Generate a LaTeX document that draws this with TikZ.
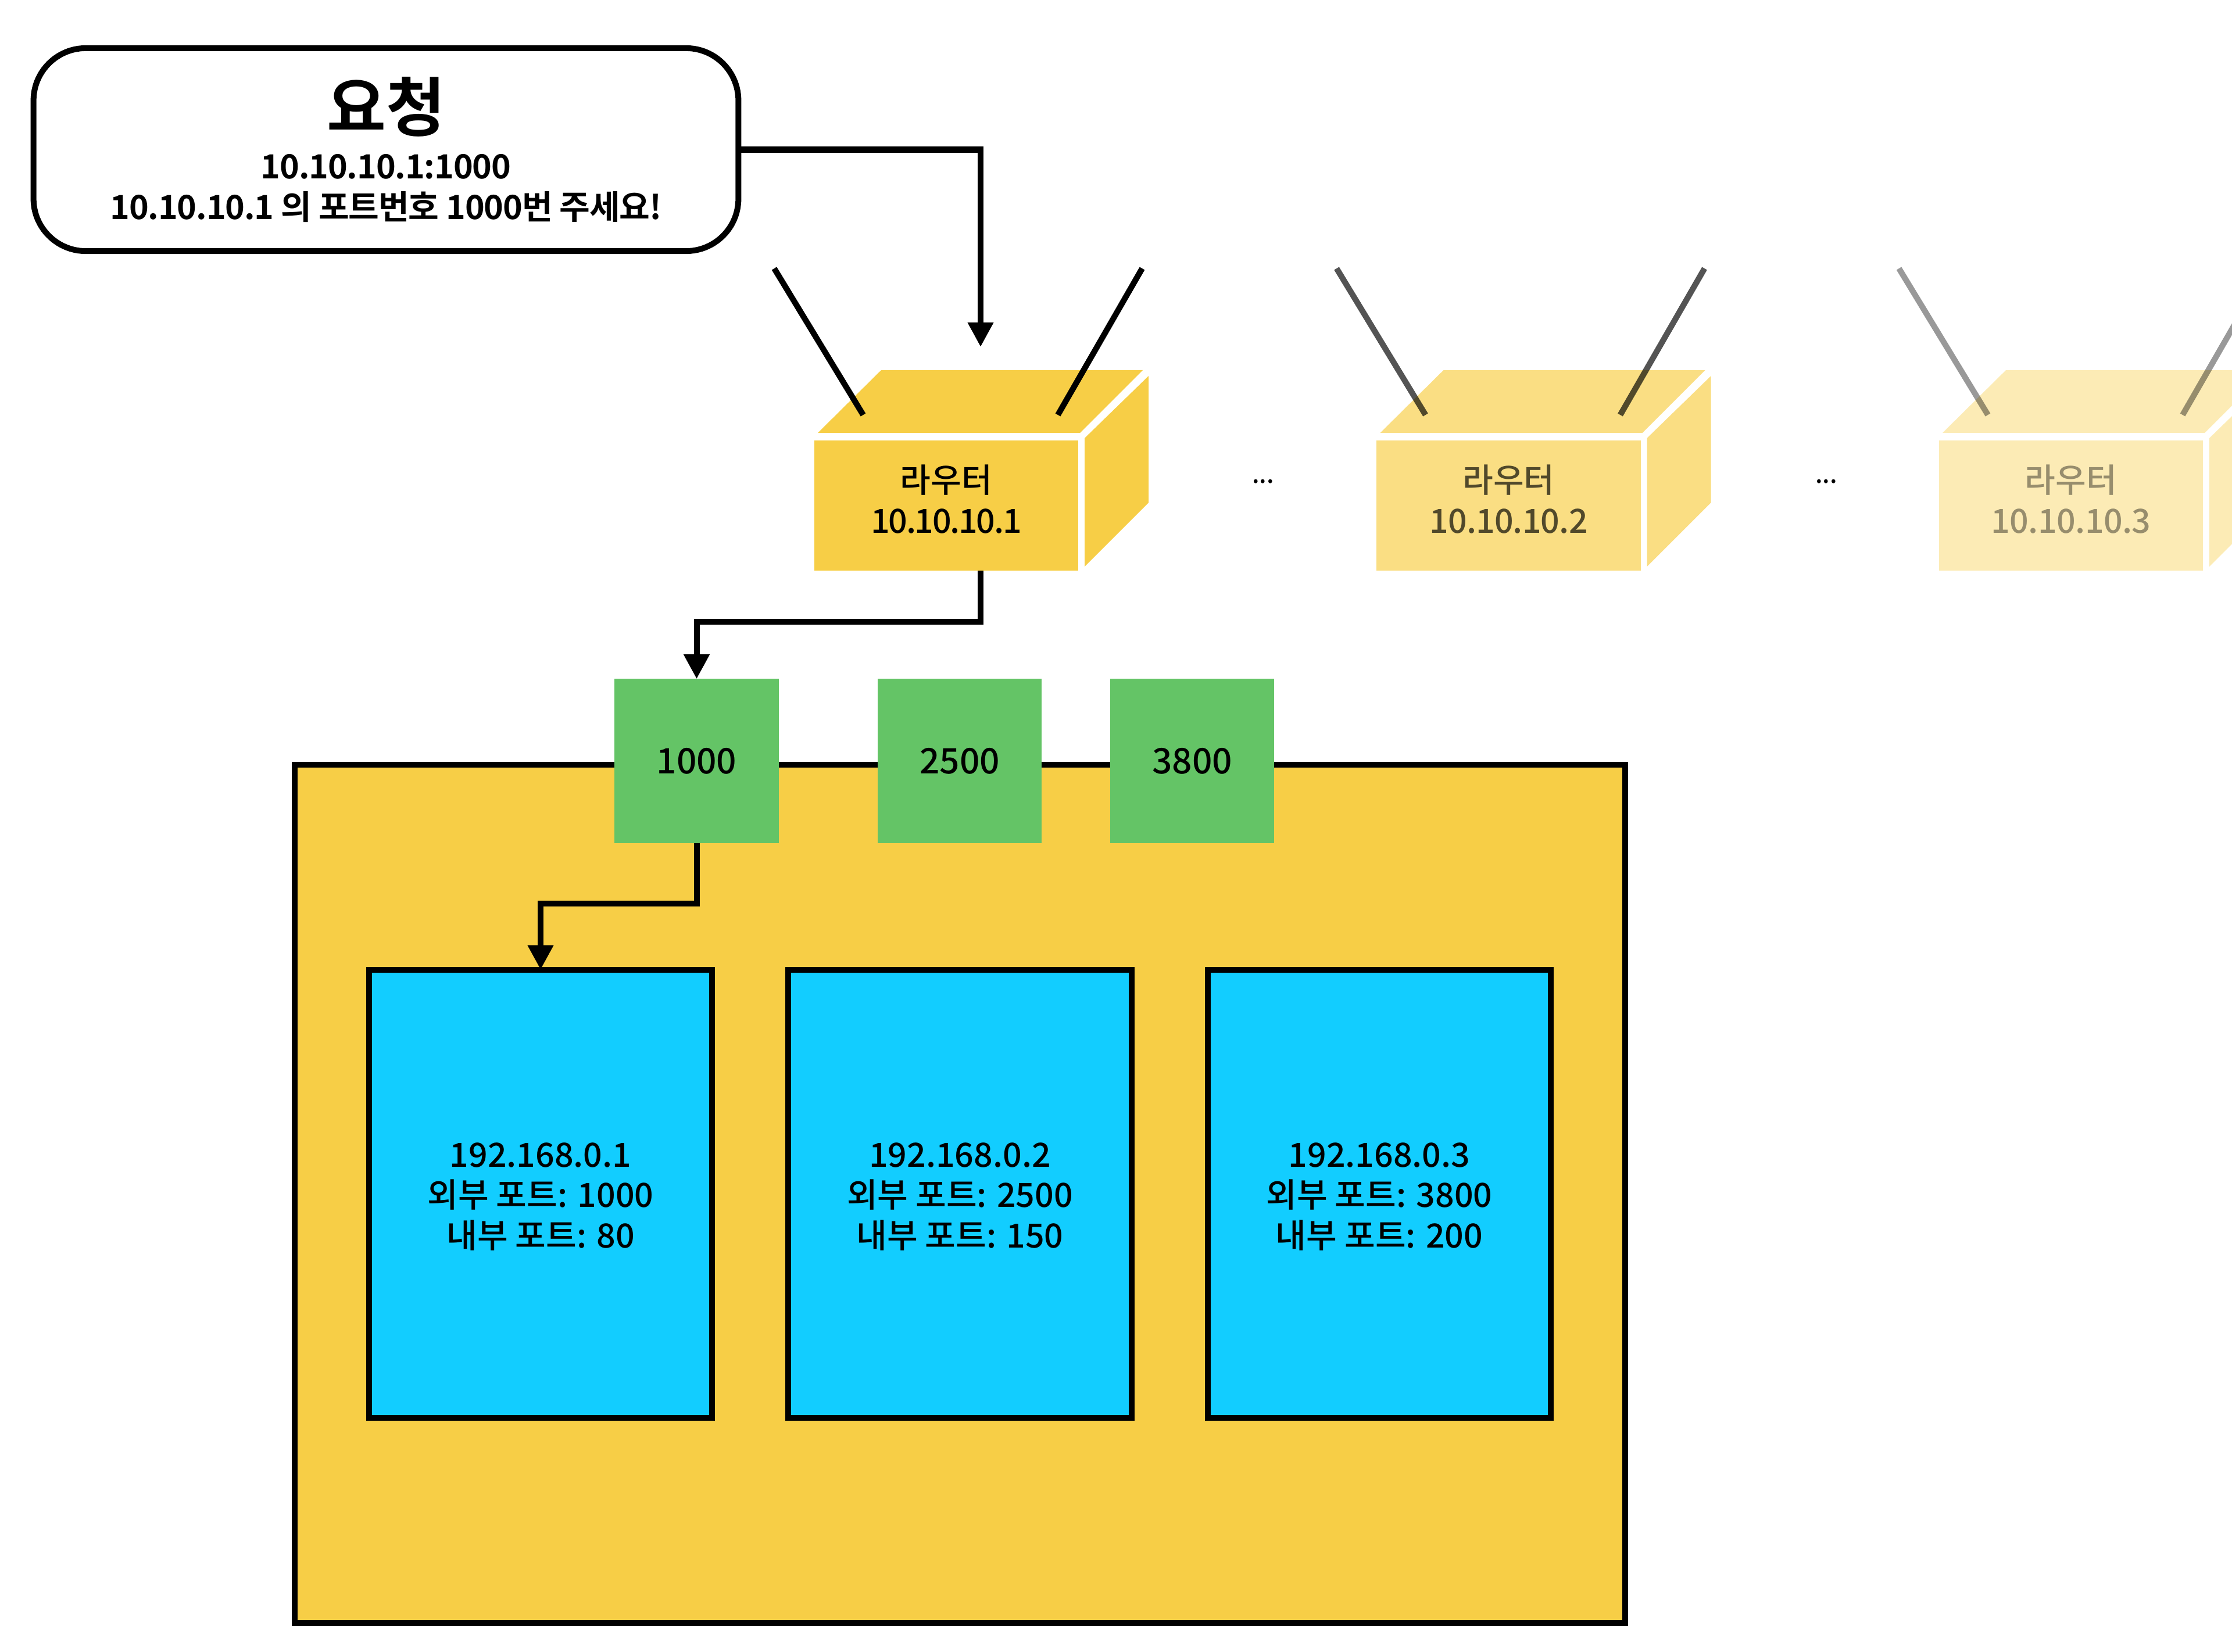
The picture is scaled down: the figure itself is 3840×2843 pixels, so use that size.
\documentclass[tikz,border=0pt]{standalone}
\usepackage{fontspec}
\usepackage{xcolor}
\usetikzlibrary{arrows.meta}
\setmainfont{Noto Sans CJK KR Medium}
\newfontfamily\boldkr{Noto Sans CJK KR Bold}
\newfontfamily\tightkr{Noto Sans CJK KR Bold}[LetterSpace=-2]
\definecolor{boxyellow}{HTML}{F7CE46}
\definecolor{portgreen}{HTML}{64C466}
\definecolor{hostblue}{HTML}{12CDFF}

\begin{document}
\begin{tikzpicture}[x=0.01cm,y=-0.01cm,
    label16/.style={font=\fontsize{16.3}{19.8}\selectfont,align=center,inner sep=0pt,outer sep=0pt},
    wire/.style={line width=2.85pt},
    arrowwire/.style={wire,-{Triangle[length=12pt,width=12pt]}},
    requestbox/.style={label16,draw,wire,rounded corners=0.9cm,fill=white,minimum width=12.12cm,minimum height=3.49cm},
    routerbox/.style={fill=boxyellow,outer sep=0pt,minimum width=4.54cm,minimum height=2.24cm},
    routertext/.style={label16,yshift=3.1pt},
    portbox/.style={label16,font=\fontsize{17.2}{20}\selectfont,fill=portgreen,minimum width=2.82cm,minimum height=2.82cm},
    hostbox/.style={draw,wire,fill=hostblue,outer sep=0pt,minimum width=5.9cm,minimum height=7.71cm},
    hosttext/.style={label16,yshift=-1.4pt},
    lanbox/.style={draw,wire,fill=boxyellow,outer sep=0pt,minimum width=22.87cm,minimum height=14.77cm},
    dotlabel/.style={font=\fontsize{12}{14}\selectfont,inner sep=0pt}]
    \clip (0,0) rectangle (3840,2843);

    % request box
    \node[requestbox] (request) at (664,257.5) {{\boldkr\fontsize{31.5}{36}\selectfont 요청}\\[3.4pt]{\tightkr 10.10.10.1:1000}\\{\tightkr 10.10.10.1 의 포트번호 1000번 주세요!}};

    % routers, each one fainter than the last
    \foreach \i/\dx/\op/\ls in {1/0/1/-4,2/967.5/0.67/-1.5,3/1935/0.4/-1} {
      \begin{scope}[shift={(\dx,0)}]
        \fill[boxyellow,opacity=\op] (1407,745) -- (1516,637) -- (1966,637) -- (1858,745) -- cycle;
        \fill[boxyellow,opacity=\op] (1866,754) -- (1976,647) -- (1976,865) -- (1866,975) -- cycle;
        \node[routerbox,opacity=\op] (router\i) at (1628,870) {};
        \node[routertext,opacity=\op] (routerlabel\i) at (router\i) {라우터\\{\addfontfeature{LetterSpace=\ls}10.10.10.\i}};
        \draw[wire,opacity=\op] (1332,462) -- (1485,714);
        \draw[wire,opacity=\op] (1965,462) -- (1820,714);
      \end{scope}
    }
    \node[dotlabel] (dots1) at (2173,829) {...};
    \node[dotlabel] (dots2) at (3142,829) {...};

    % private network with its hosts
    \node[lanbox] (lan) at (1651.5,2054.5) {};
    \node[hostbox] (host1) at (930,2054.5) {};
    \node[hostbox] (host2) at (1651.5,2054.5) {};
    \node[hostbox] (host3) at (2373,2054.5) {};
    \node[hosttext] (hostlabel1) at (host1) {192.168.0.1\\외부 포트: 1000\\내부 포트: 80};
    \node[hosttext] (hostlabel2) at (host2) {192.168.0.2\\외부 포트: 2500\\내부 포트: 150};
    \node[hosttext] (hostlabel3) at (host3) {192.168.0.3\\외부 포트: 3800\\내부 포트: 200};

    % forwarded ports on the edge
    \node[portbox] (port1) at (1198.5,1309.5) {1000};
    \node[portbox] (port2) at (1651,1309.5) {2500};
    \node[portbox] (port3) at (2051,1309.5) {3800};

    % arrows
    \coordinate (inbound) at (1687,597);
    \coordinate (routerout) at (1687,982);
    \draw[arrowwire] (request.east) -| (inbound);
    \draw[arrowwire] (routerout) -- ++(0,88) -| (port1.north);
    \draw[arrowwire] (port1.south) -- ++(0,104.5) -| (host1.north);
  \end{tikzpicture}
\end{document}
